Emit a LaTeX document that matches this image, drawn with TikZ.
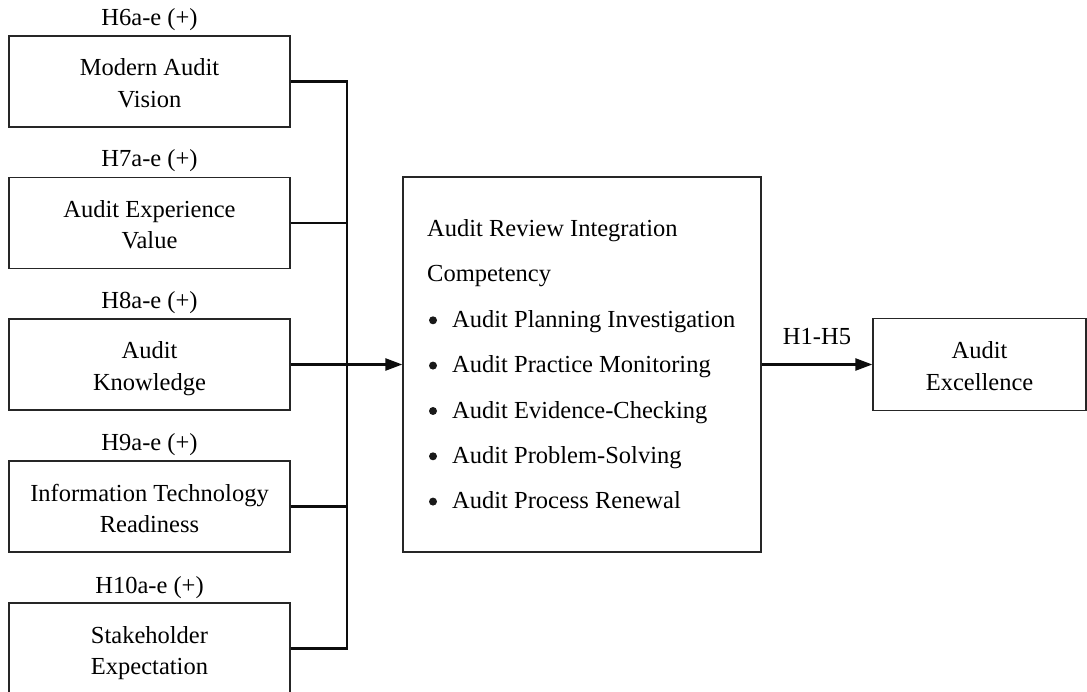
\documentclass[tikz,border=0pt]{standalone}
\usepackage{fontspec}
\setmainfont{Liberation Serif}
\usetikzlibrary{arrows.meta}
\newcommand{\twoline}[2]{\rule{0pt}{26.5pt}#1\\#2\rule[-6pt]{0pt}{6pt}}
\begin{document}
\begin{tikzpicture}[x=1pt,y=-1pt,
  box/.style={draw=black!85, line width=1.3pt, minimum width=281pt, minimum height=91pt,
    inner sep=0pt, align=center, font=\fontsize{24.5}{31.5}\selectfont, text=black},
  txt/.style={inner sep=0pt, font=\fontsize{24.5}{31.5}\selectfont, text=black},
  dot/.style={circle, fill=black!90, minimum size=8pt, inner sep=0pt},
  conn/.style={draw=black!95, line width=2.4pt},
  arr/.style={conn, -{Triangle[length=17pt,width=12pt]}}]
\useasboundingbox (0,0) rectangle (1087,692);
\clip (0,0) rectangle (1087,692);
% left boxes
\node[box] (b1) at (149.5,81.5) {\twoline{Modern Audit}{Vision}};
\node[box] (b2) at (149.5,223) {\twoline{Audit Experience}{Value}};
\node[box] (b3) at (149.5,364.5) {\twoline{Audit}{Knowledge}};
\node[box] (b4) at (149.5,506.5) {\twoline{Information Technology}{Readiness}};
\node[box] (b5) at (149.5,648.5) {\twoline{Stakeholder}{Expectation}};
% labels
\node[txt, anchor=base] (l1) at ([yshift=10pt]b1.north) {H6a-e (+)};
\node[txt, anchor=base] (l2) at ([yshift=10pt]b2.north) {H7a-e (+)};
\node[txt, anchor=base] (l3) at ([yshift=10pt]b3.north) {H8a-e (+)};
\node[txt, anchor=base] (l4) at ([yshift=10pt]b4.north) {H9a-e (+)};
\node[txt, anchor=base] (l5) at ([yshift=9pt]b5.north) {H10a-e (+)};
% centre box
\node[box, minimum width=358pt, minimum height=375pt] (c) at (582,364.5) {};
\node[txt, anchor=base west] (c0) at (427,236.5) {Audit Review Integration};
\node[txt, anchor=base west] (c1) at (427,282) {Competency};
\node[dot] (d1) at (433,320.3) {};
\node[txt, anchor=base west] (i1) at (452,327.3) {Audit Planning Investigation};
\node[dot] (d2) at (433,365.6) {};
\node[txt, anchor=base west] (i2) at (452,372.6) {Audit Practice Monitoring};
\node[dot] (d3) at (433,411) {};
\node[txt, anchor=base west] (i3) at (452,418) {Audit Evidence-Checking};
\node[dot] (d4) at (433,456.3) {};
\node[txt, anchor=base west] (i4) at (452,463.3) {Audit Problem-Solving};
\node[dot] (d5) at (433,501.6) {};
\node[txt, anchor=base west] (i5) at (452,508.6) {Audit Process Renewal};
% right box
\node[box, minimum width=213pt, minimum height=92pt] (e) at (979.5,364.5) {\twoline{Audit}{Excellence}};
% connectors
\coordinate (bus) at (347,364.5);
\draw[conn, line join=miter] (b1.east) -| (bus);
\draw[conn, line join=miter] (b2.east) -| (bus);
\draw[conn, line join=miter] (b4.east) -| (bus);
\draw[conn, line join=miter] (b5.east) -| (bus);
\draw[arr] (b3.east) -- (c.west);
\draw[arr] (c.east) -- (e.west);
\node[txt, anchor=base] (h) at (817,345) {H1-H5};
\end{tikzpicture}
\end{document}
